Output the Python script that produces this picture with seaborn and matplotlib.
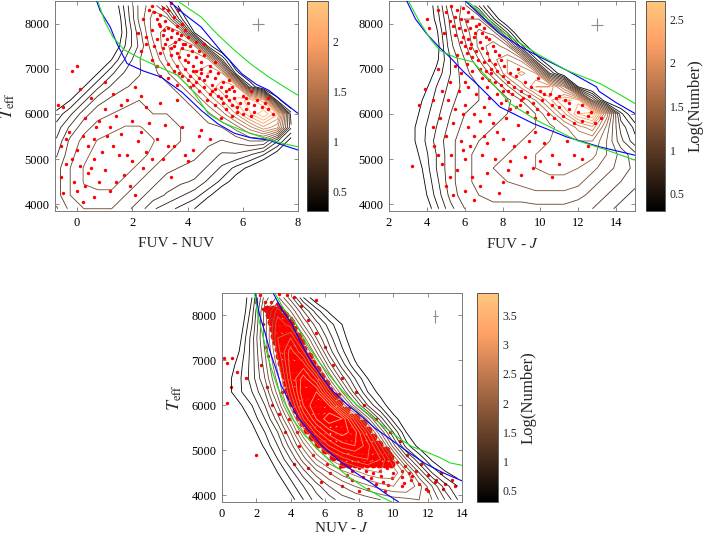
import numpy as np
import pandas as pd
import matplotlib
matplotlib.use("Agg")
import matplotlib.pyplot as plt
import seaborn as sns
from matplotlib.colors import Normalize
from matplotlib.cm import ScalarMappable

# ---------------- common temperature grid rows ----------------
grid_T = [3900, 4200, 4500, 4800, 5100, 5400, 5700, 6000, 6300, 6600, 6900, 7200, 7500, 7800, 8100, 8400]

# ---------------- Panel A: FUV - NUV ----------------
a_grid_x = [-0.75, -0.25, 0.25, 0.75, 1.25, 1.75, 2.25, 2.75, 3.25, 3.75, 4.25, 4.75, 5.25, 5.75, 6.25, 6.75, 7.25, 7.75]
a_logn = [
    [0.7, 0.9, 1.0, 1.0, 1.0, 0.9, 0.8, 0.6, 0.5, 0.4, 0.3, 0.0, 0, 0, 0, 0, 0, 0],
    [0.8, 1.0, 1.1, 1.1, 1.1, 1.0, 0.9, 0.8, 0.7, 0.6, 0.5, 0.35, 0.1, 0, 0, 0, 0, 0],
    [0.8, 1.0, 1.15, 1.2, 1.2, 1.1, 1.0, 0.9, 0.8, 0.75, 0.7, 0.55, 0.4, 0.2, 0, 0, 0, 0],
    [0.8, 1.0, 1.15, 1.2, 1.25, 1.2, 1.1, 1.0, 0.9, 0.85, 0.8, 0.7, 0.55, 0.4, 0.25, 0.05, 0, 0],
    [0.7, 0.95, 1.1, 1.2, 1.25, 1.25, 1.2, 1.1, 1.0, 0.95, 0.9, 0.8, 0.7, 0.7, 0.6, 0.45, 0.2, 0],
    [0.6, 0.9, 1.05, 1.15, 1.2, 1.25, 1.2, 1.15, 1.05, 1.0, 0.95, 0.9, 0.85, 0.9, 1.0, 1.0, 0.6, 0.2],
    [0.5, 0.75, 0.95, 1.05, 1.1, 1.15, 1.15, 1.1, 1.05, 1.0, 0.95, 0.95, 1.0, 1.2, 1.5, 1.8, 1.6, 0.6],
    [0.35, 0.55, 0.8, 0.95, 1.0, 1.05, 1.05, 1.0, 1.0, 0.95, 0.95, 1.1, 1.35, 1.7, 2.1, 2.4, 2.0, 0.5],
    [0.15, 0.3, 0.55, 0.8, 0.9, 0.95, 1.0, 0.95, 0.9, 0.95, 1.1, 1.4, 1.7, 2.0, 2.2, 1.9, 0.4, 0],
    [0, 0.1, 0.3, 0.55, 0.75, 0.85, 0.9, 0.9, 0.95, 1.1, 1.4, 1.7, 1.95, 1.9, 0.5, 0, 0, 0],
    [0, 0, 0.1, 0.3, 0.55, 0.75, 0.85, 0.95, 1.1, 1.4, 1.7, 1.85, 1.7, 0.4, 0, 0, 0, 0],
    [0, 0, 0, 0.05, 0.3, 0.6, 0.85, 1.0, 1.3, 1.6, 1.7, 1.6, 0.6, 0, 0, 0, 0, 0],
    [0, 0, 0, 0, 0.1, 0.45, 0.75, 1.1, 1.4, 1.55, 1.45, 0.4, 0, 0, 0, 0, 0, 0],
    [0, 0, 0, 0, 0, 0.4, 0.8, 1.2, 1.35, 1.3, 0.3, 0, 0, 0, 0, 0, 0, 0],
    [0, 0, 0, 0, 0, 0.45, 0.9, 1.2, 1.2, 0.5, 0, 0, 0, 0, 0, 0, 0, 0],
    [0, 0, 0, 0, 0.1, 0.5, 0.9, 1.1, 0.7, 0.2, 0, 0, 0, 0, 0, 0, 0, 0],
]
a_red = [
    (2.6, 8300), (2.8, 8250), (3.0, 8200), (3.1, 8350), (3.3, 8300), (2.9, 8100), (3.2, 8050), (3.5, 8150),
    (3.0, 7950), (3.3, 7900), (3.6, 7950), (3.8, 8000), (2.7, 7850), (3.1, 7750), (3.4, 7700), (3.7, 7650),
    (4.0, 7700), (3.2, 7550), (3.5, 7500), (3.8, 7450), (4.1, 7500), (4.3, 7600), (2.8, 7500), (3.0, 7350),
    (3.4, 7300), (3.7, 7250), (4.0, 7300), (4.3, 7250), (4.6, 7300), (3.3, 7100), (3.6, 7050), (3.9, 7000),
    (4.2, 7050), (4.5, 7000), (4.8, 7050), (3.8, 6850), (4.1, 6850), (4.4, 6800), (4.7, 6850), (5.0, 6800),
    (4.2, 6650), (4.6, 6600), (4.9, 6650), (5.2, 6600), (5.5, 6550), (4.8, 6450), (5.1, 6400), (5.4, 6400),
    (5.7, 6350), (6.0, 6400), (5.3, 6250), (5.6, 6200), (5.9, 6250), (6.2, 6250), (6.5, 6300), (6.8, 6250),
    (5.8, 6050), (6.1, 6100), (6.4, 6050), (4.5, 6900), (3.5, 6950), (5.5, 6750), (6.3, 6500), (2.5, 7700),
    (2.3, 7400), (4.0, 7150), (3.6, 7800), (4.4, 7400), (5.0, 6200), (5.6, 5950), (6.9, 6100), (7.1, 6000),
    (3.0, 6850), (2.9, 7050), (3.9, 7550), (4.2, 6950), (3.4, 7450), (4.9, 6500),
    (2.7, 8400), (3.4, 8450), (2.95, 8000), (3.15, 7850), (3.45, 7850), (3.75, 7750), (2.9, 7650), (3.25, 7650),
    (3.55, 7600), (3.85, 7550), (4.15, 7400), (3.1, 7450), (3.6, 7350), (3.9, 7200), (4.5, 7150), (4.8, 6950),
    (5.1, 6900), (4.3, 6950), (3.7, 6900), (4.0, 6750), (4.3, 6700), (4.6, 6750), (5.3, 6700), (5.0, 6550),
    (5.4, 6500), (5.7, 6500), (4.4, 6500), (5.2, 6350), (5.5, 6300), (5.8, 6150), (6.1, 6350), (6.4, 6200),
    (6.7, 6150), (6.0, 6000), (6.3, 5950), (5.4, 6100), (4.7, 6300), (4.1, 6600), (3.6, 6650), (3.3, 6800),
    (2.7, 7200), (2.5, 7550), (2.2, 7800), (2.4, 8100), (3.65, 8300), (3.9, 7850), (4.6, 7550), (5.0, 7150),
    (5.6, 6600), (6.9, 6350),
    (0.0, 7050), (-0.2, 6950), (0.1, 6550), (-0.7, 6200), (-0.5, 6150), (0.5, 6350), (1.0, 6700), (1.3, 6450),
    (1.8, 6300), (2.1, 6600), (2.5, 6150), (3.0, 6250), (3.6, 6300), (0.3, 5900), (0.8, 5850), (1.4, 5950),
    (2.0, 5850), (2.6, 5800), (3.2, 5750), (3.8, 5700), (4.5, 5650), (-0.3, 5600), (0.2, 5500), (0.6, 5450),
    (1.1, 5500), (1.6, 5550), (2.2, 5400), (2.9, 5450), (3.5, 5300), (4.2, 5200), (-0.6, 5300), (0.0, 5200),
    (0.4, 5300), (0.9, 5150), (1.5, 5100), (2.0, 4950), (2.5, 5150), (3.1, 5000), (4.0, 4950), (-0.4, 4900),
    (0.1, 4850), (0.5, 4800), (1.0, 4750), (1.7, 4650), (2.4, 4800), (-0.1, 4500), (0.3, 4400), (0.8, 4500),
    (1.2, 4300), (0.6, 4150), (-0.5, 4250), (0.2, 4050), (1.9, 4400), (5.2, 5900), (4.8, 5450), (1.2, 5700),
    (-0.6, 4600), (-0.2, 5000), (0.7, 5700), (1.3, 5300), (1.8, 5100), (2.3, 5600), (2.7, 5000), (3.3, 5300),
    (3.9, 5100), (4.4, 5500), (1.0, 6100), (1.6, 6200), (2.3, 6400), (0.0, 4300), (0.4, 4700), (1.4, 4500),
    (2.1, 4200), (-0.4, 5450), (0.6, 5000), (3.4, 4600),
]
a_blue_lo_x = [0.71, 0.83, 1.2, 1.44, 1.81, 2.4, 3.03, 3.8, 4.49, 5.1, 5.7, 6.3, 6.94, 7.5, 8.0]
a_blue_lo_T = [8500, 8290, 7925, 7560, 7115, 6950, 6820, 6480, 6080, 5780, 5570, 5470, 5420, 5300, 5200]
a_blue_hi_x = [3.33, 3.9, 4.49, 5.2, 5.96, 6.5, 6.94, 7.5, 8.0]
a_blue_hi_T = [8500, 8200, 7925, 7400, 6893, 6650, 6524, 6250, 6010]
a_green_lo_x = [0.75, 1.0, 1.3, 1.7, 2.42, 3.0, 3.64, 4.2, 4.74, 5.3, 5.96, 6.94, 7.5, 8.0]
a_green_lo_T = [8500, 8050, 7700, 7420, 7188, 7030, 6856, 6500, 6008, 5800, 5638, 5433, 5340, 5270]
a_green_hi_x = [3.64, 4.0, 4.49, 5.1, 5.7, 6.3, 6.94, 7.5, 8.0]
a_green_hi_T = [8500, 8350, 8146, 7750, 7409, 7100, 6818, 6600, 6413]
a_err = (6.55, 7980, 0.21, 135)

# ---------------- Panel B: FUV - J ----------------
b_grid_x = [2.25, 3.0, 3.75, 4.5, 5.25, 6.0, 6.75, 7.5, 8.25, 9.0, 9.75, 10.5, 11.25, 12.0, 12.75, 13.5, 14.25, 15.0]
b_logn = [
    [0, 0, 0.1, 0.4, 0.7, 0.9, 1.0, 1.0, 1.0, 1.0, 1.0, 1.0, 1.0, 0.95, 0.9, 0.8, 0.7, 0.6],
    [0, 0, 0.2, 0.5, 0.8, 1.0, 1.05, 1.1, 1.1, 1.1, 1.15, 1.15, 1.15, 1.1, 1.0, 0.9, 0.8, 0.7],
    [0, 0, 0.25, 0.55, 0.85, 1.0, 1.1, 1.15, 1.2, 1.25, 1.3, 1.3, 1.3, 1.25, 1.1, 1.0, 0.9, 0.8],
    [0, 0.1, 0.3, 0.6, 0.85, 1.0, 1.1, 1.2, 1.25, 1.3, 1.35, 1.4, 1.4, 1.35, 1.25, 1.1, 1.0, 0.85],
    [0, 0.15, 0.35, 0.6, 0.85, 1.0, 1.1, 1.15, 1.2, 1.3, 1.35, 1.4, 1.45, 1.45, 1.4, 1.2, 1.0, 0.8],
    [0, 0.2, 0.4, 0.65, 0.85, 1.0, 1.05, 1.1, 1.15, 1.2, 1.3, 1.35, 1.4, 1.5, 1.5, 1.2, 0.8, 0.5],
    [0, 0.2, 0.4, 0.6, 0.8, 0.95, 1.0, 1.05, 1.1, 1.15, 1.2, 1.3, 1.45, 1.7, 1.9, 1.3, 0.7, 0.4],
    [0, 0.15, 0.35, 0.55, 0.75, 0.9, 0.95, 1.0, 1.05, 1.1, 1.2, 1.5, 1.9, 2.4, 2.6, 1.6, 0.5, 0.1],
    [0, 0.1, 0.3, 0.5, 0.7, 0.85, 0.9, 0.95, 1.0, 1.2, 1.5, 1.9, 2.3, 2.2, 0.9, 0.1, 0, 0],
    [0, 0, 0.2, 0.45, 0.65, 0.8, 0.9, 1.0, 1.3, 1.7, 2.1, 2.1, 1.5, 0.3, 0, 0, 0, 0],
    [0, 0, 0.1, 0.35, 0.6, 0.85, 1.0, 1.3, 1.8, 2.0, 1.8, 0.6, 0.05, 0, 0, 0, 0, 0],
    [0, 0, 0, 0.25, 0.6, 0.9, 1.2, 1.6, 1.8, 1.6, 0.5, 0, 0, 0, 0, 0, 0, 0],
    [0, 0, 0, 0.2, 0.7, 1.0, 1.4, 1.6, 1.4, 0.5, 0, 0, 0, 0, 0, 0, 0, 0],
    [0, 0, 0, 0.25, 0.75, 1.1, 1.4, 1.3, 0.6, 0, 0, 0, 0, 0, 0, 0, 0, 0],
    [0, 0, 0, 0.35, 0.8, 1.2, 1.2, 0.5, 0, 0, 0, 0, 0, 0, 0, 0, 0, 0],
    [0, 0, 0, 0.4, 0.9, 1.1, 0.6, 0.1, 0, 0, 0, 0, 0, 0, 0, 0, 0, 0],
]
b_red = [
    (5.3, 8400), (5.6, 8300), (5.9, 8350), (6.2, 8250), (5.5, 8150), (5.8, 8100), (6.1, 8050), (6.4, 8150),
    (5.4, 7950), (5.7, 7900), (6.0, 7850), (6.3, 7900), (6.6, 7950), (5.9, 7700), (6.2, 7650), (6.5, 7700),
    (6.8, 7600), (7.1, 7700), (6.0, 7500), (6.3, 7450), (6.6, 7400), (6.9, 7450), (7.2, 7350), (6.4, 7250),
    (6.7, 7200), (7.0, 7150), (7.3, 7200), (7.6, 7100), (6.8, 7000), (7.1, 6950), (7.4, 6900), (7.7, 6950),
    (8.0, 6850), (7.3, 6750), (7.6, 6700), (7.9, 6650), (8.3, 6700), (8.6, 6600), (8.0, 6500), (8.5, 6450),
    (9.0, 6500), (9.4, 6400), (9.0, 6300), (9.6, 6250), (10.1, 6300), (10.6, 6200), (11.0, 6150), (11.5, 6100),
    (12.0, 6050), (12.5, 5950), (10.2, 6450), (10.8, 6350), (11.3, 6300), (8.4, 6900), (9.2, 6700), (6.1, 7100),
    (5.6, 7300), (7.5, 7500), (8.9, 6200), (11.8, 5800), (12.9, 5800), (6.9, 7800), (7.8, 7300), (8.7, 6850),
    (5.0, 8250), (5.2, 8050), (5.5, 7750), (5.8, 7600), (6.1, 7350), (6.35, 7550), (6.55, 7800), (6.75, 8000),
    (7.0, 7900), (7.3, 7650), (7.6, 7400), (7.9, 7200), (8.1, 7050), (6.4, 6950), (6.9, 6800), (7.2, 6600),
    (7.7, 6450), (8.2, 6300), (8.7, 6150), (9.3, 6050), (9.8, 6100), (10.4, 6000), (8.8, 7000), (9.5, 6600),
    (10.0, 6500), (10.5, 6450), (11.0, 6400), (11.5, 6250), (12.2, 6200), (12.7, 6050), (11.2, 5950), (10.7, 5900),
    (12.2, 5850), (13.2, 5900), (9.9, 6800), (6.0, 6700), (5.7, 6500), (7.9, 6250), (8.4, 6100), (9.7, 5900),
    (6.6, 6450), (7.3, 6350), (5.8, 6900), (6.2, 6600), (7.4, 7000), (8.3, 6500), (9.1, 6350), (5.5, 7050),
    (4.9, 7800), (4.6, 8300),
    (4.0, 8100), (4.1, 7900), (4.6, 7000), (3.9, 6550), (3.6, 6200), (4.3, 6300), (4.8, 6500), (5.2, 6700),
    (5.1, 6300), (5.5, 6100), (6.0, 6200), (6.5, 6000), (7.0, 6150), (4.7, 5900), (5.4, 5800), (6.2, 5700),
    (6.8, 5850), (7.5, 5800), (8.2, 5900), (8.8, 5750), (5.0, 5500), (5.8, 5400), (6.5, 5500), (7.2, 5350),
    (8.0, 5450), (8.6, 5300), (9.4, 5400), (10.2, 5350), (5.3, 5100), (6.0, 5000), (6.9, 5100), (7.6, 5000),
    (8.4, 4950), (9.2, 5050), (10.0, 4950), (11.0, 4900), (5.6, 4750), (6.4, 4600), (7.2, 4700), (8.0, 4500),
    (9.0, 4650), (5.0, 4400), (6.0, 4300), (6.8, 4400), (7.8, 4250), (3.2, 4850), (11.8, 5100), (12.5, 5300),
    (4.4, 5300), (4.6, 5100), (5.2, 4600), (4.8, 4900), (5.9, 5200), (6.3, 5300), (7.0, 5500), (7.7, 5600),
    (9.7, 5600), (10.6, 5100), (11.4, 5400), (8.3, 4750), (9.6, 4800), (10.6, 4600), (12.2, 5000), (5.4, 4200),
    (6.5, 4100), (4.3, 5700), (5.9, 6000), (7.3, 6000),
]
b_blue_lo_x = [2.92, 3.4, 3.98, 4.6, 5.21, 5.9, 6.62, 7.86, 9.62, 11.39, 13.15, 15.0]
b_blue_lo_T = [8516, 8100, 7779, 7500, 7261, 6950, 6672, 6154, 5787, 5490, 5269, 5085]
b_green_lo_x = [3.0, 3.6, 4.2, 4.68, 5.5, 6.44, 7.33, 8.39, 9.8, 11.9, 13.5, 15.0]
b_green_lo_T = [8516, 8050, 7650, 7409, 7250, 7150, 6745, 6230, 5860, 5417, 5200, 4975]
b_blue_hi_x = [6.0, 6.9, 7.86, 8.9, 9.97, 11.39, 12.97, 13.1, 14.0, 15.0]
b_blue_hi_T = [8516, 8150, 7779, 7500, 7261, 6966, 6597, 6500, 6250, 6008]
b_green_hi_x = [6.1, 7.0, 7.86, 8.8, 9.8, 11.39, 13.15, 14.1, 15.0]
b_green_hi_T = [8516, 8180, 7852, 7600, 7336, 6966, 6672, 6450, 6230]
b_err = (13.0, 7978, 0.31, 135)

# ---------------- Panel C: NUV - J ----------------
c_grid_x = [0.25, 1.0, 1.75, 2.5, 3.25, 4.0, 4.75, 5.5, 6.25, 7.0, 7.75, 8.5, 9.25, 10.0, 10.75, 11.5, 12.25, 13.0, 13.75]
c_logn = [
    [0, 0, 0, 0, 0, 0.2, 0.5, 0.8, 1.0, 1.2, 1.3, 1.4, 1.5, 1.6, 1.65, 1.7, 1.5, 1.1, 0.7],
    [0, 0, 0, 0, 0.1, 0.4, 0.7, 1.0, 1.3, 1.5, 1.7, 1.85, 2.0, 2.1, 2.1, 1.8, 1.3, 0.8, 0.5],
    [0, 0, 0, 0, 0.3, 0.6, 1.0, 1.4, 1.7, 2.0, 2.2, 2.4, 2.5, 2.45, 2.0, 1.3, 0.7, 0.35, 0.15],
    [0, 0, 0, 0.15, 0.5, 0.9, 1.4, 1.9, 2.3, 2.6, 2.8, 2.9, 2.7, 2.1, 1.3, 0.7, 0.25, 0, 0],
    [0, 0, 0.05, 0.35, 0.7, 1.2, 1.8, 2.4, 2.9, 3.2, 3.3, 3.0, 2.3, 1.4, 0.6, 0.2, 0, 0, 0],
    [0, 0, 0.2, 0.5, 0.9, 1.5, 2.3, 3.0, 3.4, 3.6, 3.4, 2.6, 1.7, 0.9, 0.3, 0, 0, 0, 0],
    [0, 0.1, 0.35, 0.7, 1.2, 1.9, 2.9, 3.5, 3.85, 3.7, 2.8, 1.8, 1.0, 0.4, 0.1, 0, 0, 0, 0],
    [0.05, 0.25, 0.5, 0.9, 1.5, 2.4, 3.3, 3.7, 3.5, 2.5, 1.6, 0.9, 0.45, 0.1, 0, 0, 0, 0, 0],
    [0.2, 0.45, 0.7, 1.1, 1.8, 2.7, 3.5, 3.5, 2.6, 1.7, 1.0, 0.5, 0.2, 0, 0, 0, 0, 0, 0],
    [0.2, 0.45, 0.8, 1.3, 2.0, 2.9, 3.4, 2.9, 1.9, 1.2, 0.7, 0.3, 0, 0, 0, 0, 0, 0, 0],
    [0.1, 0.4, 0.8, 1.4, 2.2, 3.0, 3.0, 2.2, 1.4, 0.8, 0.35, 0.1, 0, 0, 0, 0, 0, 0, 0],
    [0, 0.3, 0.8, 1.5, 2.4, 3.0, 2.5, 1.7, 1.0, 0.55, 0.2, 0, 0, 0, 0, 0, 0, 0, 0],
    [0, 0.2, 0.8, 1.6, 2.5, 2.7, 2.0, 1.3, 0.8, 0.4, 0.1, 0, 0, 0, 0, 0, 0, 0, 0],
    [0, 0.1, 0.7, 1.6, 2.45, 2.2, 1.5, 1.0, 0.6, 0.3, 0, 0, 0, 0, 0, 0, 0, 0, 0],
    [0, 0, 0.6, 1.6, 2.2, 1.7, 1.1, 0.6, 0.25, 0, 0, 0, 0, 0, 0, 0, 0, 0, 0],
    [0, 0, 0.5, 1.4, 1.75, 1.2, 0.5, 0.1, 0, 0, 0, 0, 0, 0, 0, 0, 0, 0, 0],
]
# dense red core: one temperature per row with the colours found there
c_core_T = [8150, 8000, 7850, 7700, 7550, 7400, 7250, 7100, 6950, 6800, 6650, 6500, 6350,
            6200, 6050, 5900, 5750, 5600, 5450, 5300, 5150, 5000, 4850, 4700]
c_core_x = [
    [2.65, 2.95, 3.3],
    [2.75, 3.05, 3.35, 3.65],
    [2.85, 3.15, 3.45, 3.75, 4.0],
    [2.95, 3.25, 3.55, 3.85, 4.15],
    [3.05, 3.35, 3.65, 3.95, 4.25, 4.45],
    [3.15, 3.45, 3.75, 4.05, 4.35, 4.6],
    [3.25, 3.55, 3.85, 4.15, 4.45, 4.75],
    [3.35, 3.65, 3.95, 4.25, 4.55, 4.85, 5.05],
    [3.45, 3.75, 4.05, 4.35, 4.65, 4.95, 5.25],
    [3.55, 3.85, 4.15, 4.45, 4.75, 5.05, 5.35, 5.55],
    [3.65, 3.95, 4.25, 4.55, 4.85, 5.15, 5.45, 5.75],
    [3.75, 4.05, 4.35, 4.65, 4.95, 5.25, 5.55, 5.85, 6.05],
    [3.85, 4.15, 4.45, 4.75, 5.05, 5.35, 5.65, 5.95, 6.25],
    [3.95, 4.25, 4.55, 4.85, 5.15, 5.45, 5.75, 6.05, 6.35, 6.6],
    [4.1, 4.4, 4.7, 5.0, 5.3, 5.6, 5.9, 6.2, 6.5, 6.8],
    [4.3, 4.6, 4.9, 5.2, 5.5, 5.8, 6.1, 6.4, 6.7, 7.0, 7.25],
    [4.5, 4.8, 5.1, 5.4, 5.7, 6.0, 6.3, 6.6, 6.9, 7.2, 7.5, 7.8],
    [4.7, 5.0, 5.3, 5.6, 5.9, 6.2, 6.5, 6.8, 7.1, 7.4, 7.7, 8.0, 8.25],
    [4.95, 5.25, 5.55, 5.85, 6.15, 6.45, 6.75, 7.05, 7.35, 7.65, 7.95, 8.25, 8.5],
    [5.25, 5.55, 5.85, 6.15, 6.45, 6.75, 7.05, 7.35, 7.65, 7.95, 8.25, 8.55, 8.8],
    [5.6, 5.9, 6.2, 6.5, 6.8, 7.1, 7.4, 7.7, 8.0, 8.3, 8.6, 8.9, 9.15],
    [6.0, 6.3, 6.6, 6.9, 7.2, 7.5, 7.8, 8.1, 8.4, 8.7, 9.0, 9.3, 9.55],
    [6.5, 6.8, 7.1, 7.4, 7.7, 8.0, 8.3, 8.6, 8.9, 9.2, 9.5, 9.8],
    [7.05, 7.4, 7.75, 8.1, 8.45, 8.8, 9.15, 9.5, 9.85],
]
c_red_sparse = [
    (0.1, 7050), (0.3, 6950), (0.6, 7050), (0.9, 6750), (0.5, 6400), (0.3, 6050), (1.4, 6600), (2.0, 4900),
    (2.3, 6900), (2.6, 6400), (2.9, 6000), (3.3, 5800), (3.7, 5400), (4.5, 5100), (4.2, 4700), (5.0, 4600),
    (5.8, 4300), (6.3, 4500), (7.0, 4200), (7.6, 4350), (8.5, 4150), (9.5, 4100), (10.5, 4200), (11.0, 4350),
    (12.0, 4450), (12.5, 4350), (13.0, 4250), (11.6, 4700), (10.8, 4900), (10.4, 5200), (9.8, 5400), (9.0, 5700),
    (8.3, 6000), (7.8, 6300), (7.0, 6600), (6.5, 6900), (6.0, 7300), (5.5, 7600), (5.0, 7900), (4.6, 8200),
    (4.2, 8400), (3.8, 8450), (3.3, 8480), (2.2, 8450), (2.0, 8300), (5.5, 8350), (2.4, 7800), (2.5, 7300),
    (2.7, 7100), (3.5, 6300), (3.9, 5700), (4.4, 5400), (5.3, 4900), (6.1, 4700), (7.3, 4450), (11.3, 4550),
    (12.8, 4500), (13.4, 4350), (9.4, 4300), (8.0, 4100), (11.9, 4150), (6.8, 6250), (7.4, 5950), (8.6, 5500),
    (2.5, 8300), (2.85, 8300), (3.2, 8250), (2.4, 8150), (3.6, 8100), (4.0, 7950), (4.3, 7750), (4.7, 7450),
    (5.1, 7150), (5.5, 6850), (5.9, 6550), (6.4, 6300), (6.8, 6050), (7.3, 5800), (7.9, 5550), (8.5, 5350),
    (9.1, 5150), (9.8, 4950), (10.2, 4750), (10.7, 4650), (7.6, 4550), (8.0, 4600), (8.4, 4550), (8.8, 4500),
    (9.2, 4550), (9.6, 4600), (10.0, 4500), (10.5, 4550), (10.9, 4500), (8.2, 4400), (8.7, 4380), (9.3, 4420),
    (9.9, 4380), (10.5, 4400), (11.1, 4420), (9.0, 4250), (9.7, 4230), (10.6, 4270), (11.5, 4250), (12.4, 4300),
    (6.9, 4620), (7.4, 4650), (6.4, 4800), (5.9, 5000), (5.4, 5200), (4.9, 5450), (4.5, 5700), (4.1, 6000),
    (3.8, 6350), (3.5, 6700), (3.3, 7050), (3.1, 7400), (2.9, 7700), (12.0, 4100), (12.9, 4150), (13.6, 4200),
]
c_blue_lo_x = [1.94, 2.2, 2.53, 2.8, 3.11, 3.45, 3.89, 4.4, 5.06, 5.9, 6.81, 7.8, 8.75, 9.5, 10.3]
c_blue_lo_T = [8482, 8000, 7593, 7200, 6852, 6450, 6111, 5750, 5444, 5080, 4778, 4500, 4260, 4050, 3852]
c_green_lo_x = [1.9, 2.1, 2.35, 2.6, 2.85, 3.2, 3.6, 4.1, 4.8, 5.7, 6.6, 7.5, 8.4, 9.2, 9.9]
c_green_lo_T = [8490, 8000, 7600, 7200, 6850, 6450, 6100, 5700, 5350, 4980, 4650, 4380, 4150, 3980, 3850]
c_blue_hi_x = [3.01, 3.5, 4.08, 4.55, 5.06, 5.7, 6.42, 7.2, 7.97, 8.9, 9.92, 10.9, 11.86, 12.9, 14.0]
c_blue_hi_T = [8482, 8120, 7815, 7430, 7074, 6700, 6333, 6050, 5815, 5500, 5222, 4950, 4704, 4500, 4320]
c_green_hi_x = [3.1, 3.6, 4.3, 4.9, 5.45, 6.2, 7.0, 7.9, 8.75, 9.6, 10.5, 11.1, 11.67, 12.64, 13.3, 14.0]
c_green_hi_T = [8482, 8150, 7815, 7400, 7074, 6700, 6333, 6000, 5741, 5480, 5222, 5080, 5000, 4852, 4720, 4667]
c_err = (12.45, 7978, 0.15, 135)

# ---------------- style ----------------
sns.set_theme(style="ticks")
plt.rcParams['font.family'] = ['Liberation Serif', 'DejaVu Serif']
plt.rcParams['mathtext.fontset'] = 'stix'

FRAME = '#7a7a7a'
fig = plt.figure(figsize=(7.06, 5.40), dpi=100)


def panel(rect, crect, xlim, xticks, gx, Z, vmax, step, cticks, red, lines, err,
          xlabel, ylabel, clabel, core=None, contour_top=False, xpad=6):
    ax = fig.add_axes(rect)
    cax = fig.add_axes(crect)
    norm = Normalize(0.3, vmax)
    levels = np.arange(0.3, vmax, step)
    X, Y = np.meshgrid(gx, grid_T)
    zc = 4 if contour_top else 2
    ax.contour(X, Y, np.array(Z), levels=levels, cmap='copper', norm=norm,
               linewidths=0.6, zorder=zc)
    if core is not None:
        ct, cx = core
        dfc = pd.DataFrame({'x': [v for row in cx for v in row],
                            'T': [t for t, row in zip(ct, cx) for _ in row]})
        sns.scatterplot(data=dfc, x='x', y='T', color='red', s=32, linewidth=0,
                        ax=ax, zorder=3)
    dfr = pd.DataFrame(red, columns=['x', 'T'])
    sns.scatterplot(data=dfr, x='x', y='T', color='red', s=6, linewidth=0,
                    ax=ax, zorder=3)
    for lx, lt, col in lines:
        dfl = pd.DataFrame({'x': lx, 'T': lt})
        sns.lineplot(data=dfl, x='x', y='T', sort=False, estimator=None,
                     color=col, linewidth=0.8, ax=ax, zorder=5)
    ex, ey, exe, eye = err
    ax.errorbar([ex], [ey], xerr=[exe], yerr=[eye], color='#8c8c8c',
                linewidth=0.8, capsize=0, zorder=6)
    ax.set_xlim(*xlim)
    ax.set_ylim(3850, 8500)
    ax.set_xticks(xticks)
    ax.set_yticks([4000, 5000, 6000, 7000, 8000])
    ax.tick_params(direction='in', top=True, right=True, length=3, width=0.6,
                   color=FRAME, labelsize=9, pad=4, labelcolor='black')
    for s in ax.spines.values():
        s.set_color(FRAME)
        s.set_linewidth(0.7)
    ax.set_xlabel(xlabel, fontsize=11, labelpad=xpad)
    if ylabel:
        ax.set_ylabel(ylabel, fontsize=13, labelpad=5)
    else:
        ax.set_ylabel('')
    cb = fig.colorbar(ScalarMappable(norm=norm, cmap='copper'), cax=cax)
    cb.set_ticks(cticks, labels=['%g' % t for t in cticks])
    cax.tick_params(direction='in', length=3, width=0.6, labelsize=8.5, color='#444444')
    cb.outline.set_linewidth(0.6)
    cb.outline.set_edgecolor('#444444')
    if clabel:
        cb.set_label(clabel, fontsize=12, labelpad=2)
    return ax


panel([55 / 706, 1 - 211 / 540, 243 / 706, 210 / 540],
      [307 / 706, 1 - 211 / 540, 21 / 706, 210 / 540],
      (-0.8, 8), [0, 2, 4, 6, 8], a_grid_x, a_logn, 2.41, 0.14, [0.5, 1, 1.5, 2], a_red,
      [(a_blue_lo_x, a_blue_lo_T, 'blue'), (a_blue_hi_x, a_blue_hi_T, 'blue'),
       (a_green_lo_x, a_green_lo_T, '#22dd22'), (a_green_hi_x, a_green_hi_T, '#22dd22')],
      a_err, 'FUV - NUV', r'$T_{\rm eff}$', None)

panel([389 / 706, 1 - 211 / 540, 246 / 706, 210 / 540],
      [646 / 706, 1 - 211 / 540, 19 / 706, 210 / 540],
      (2, 15), [2, 4, 6, 8, 10, 12, 14], b_grid_x, b_logn, 2.71, 0.15, [0.5, 1, 1.5, 2, 2.5], b_red,
      [(b_blue_lo_x, b_blue_lo_T, 'blue'), (b_blue_hi_x, b_blue_hi_T, 'blue'),
       (b_green_lo_x, b_green_lo_T, '#22dd22'), (b_green_hi_x, b_green_hi_T, '#22dd22')],
      b_err, r'FUV - $J$', None, 'Log(Number)')

panel([222 / 706, 1 - 502 / 540, 240 / 706, 209 / 540],
      [477 / 706, 1 - 502 / 540, 21 / 706, 209 / 540],
      (0, 14), [0, 2, 4, 6, 8, 10, 12, 14], c_grid_x, c_logn, 3.89, 0.2,
      [0.5, 1, 1.5, 2, 2.5, 3, 3.5], c_red_sparse,
      [(c_blue_lo_x, c_blue_lo_T, 'blue'), (c_blue_hi_x, c_blue_hi_T, 'blue'),
       (c_green_lo_x, c_green_lo_T, '#22dd22'), (c_green_hi_x, c_green_hi_T, '#22dd22')],
      c_err, r'NUV - $J$', r'$T_{\rm eff}$', 'Log(Number)',
      core=(c_core_T, c_core_x), contour_top=True, xpad=1)

fig.savefig('out.png', dpi=100)
